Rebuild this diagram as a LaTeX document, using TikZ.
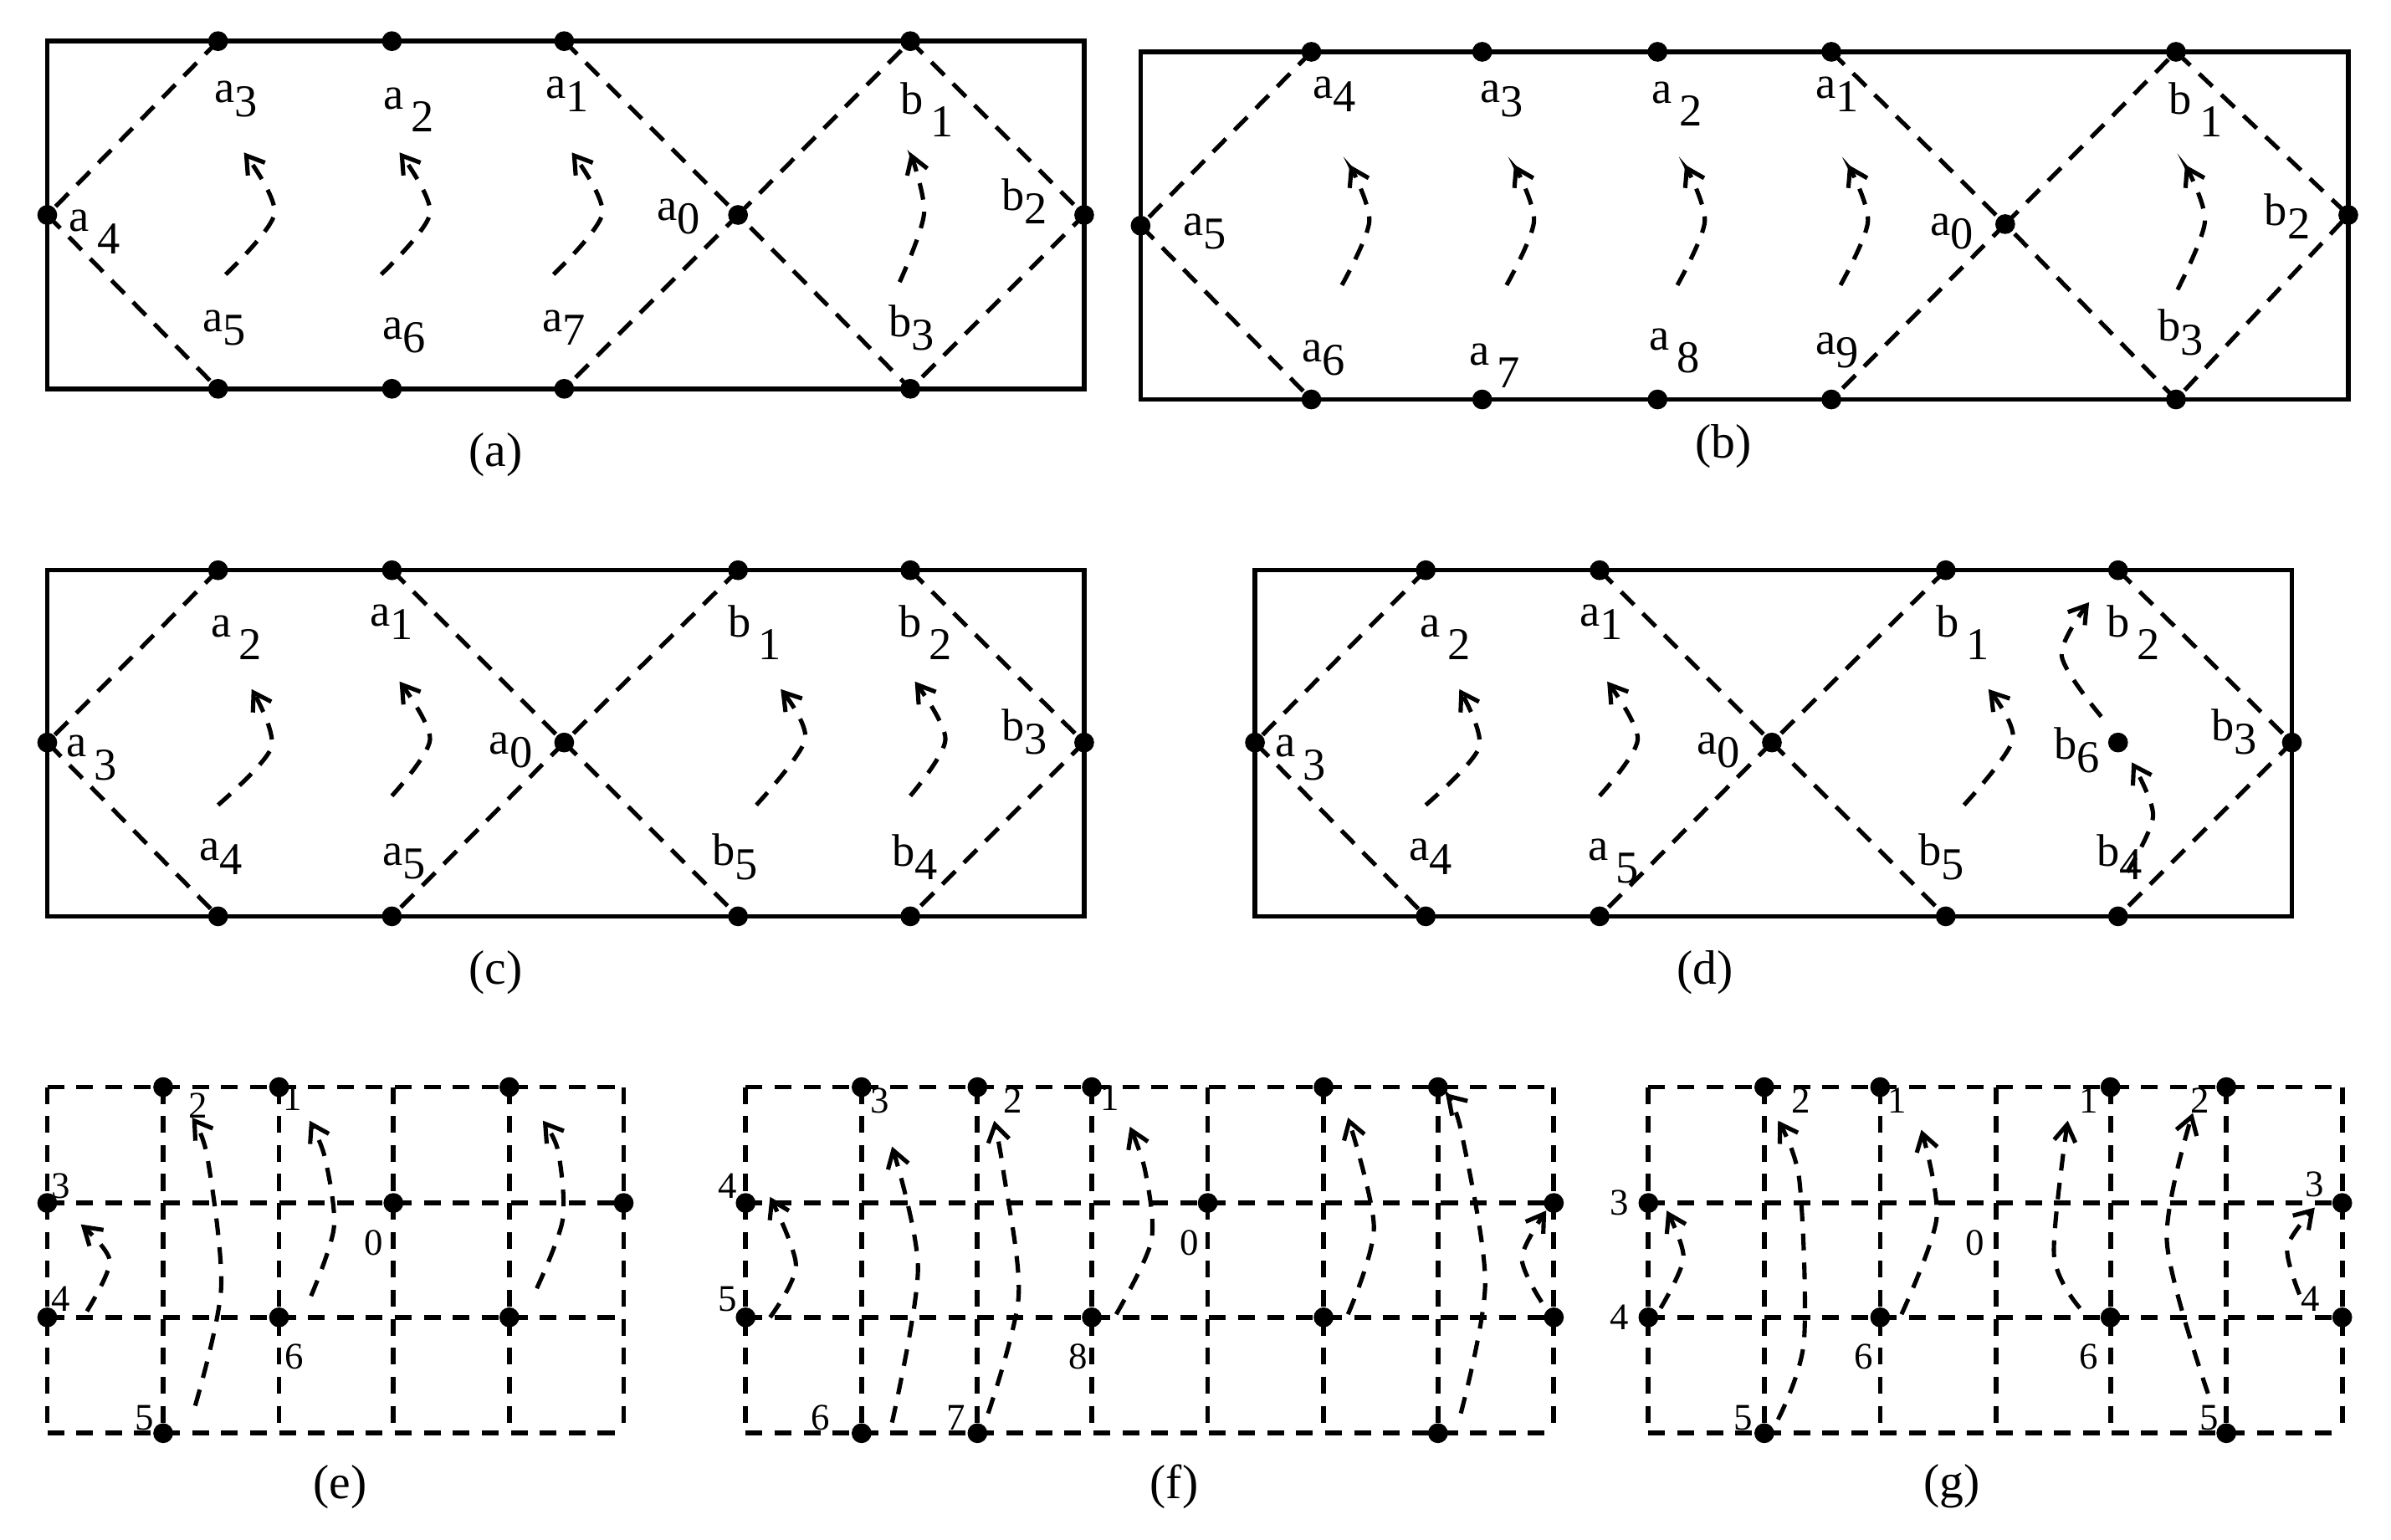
\documentclass[tikz,border=0pt]{standalone}
\usepackage{fontspec}
\setmainfont{Liberation Serif}
\usetikzlibrary{arrows.meta}
\tikzset{
 box/.style={line width=0.85pt},
 dl/.style={line width=0.8pt,dash pattern=on 1.2mm off 0.8mm},
 gridln/.style={line width=0.9pt,dash pattern=on 1.1mm off 0.8mm},
 arr/.style={line width=0.8pt,dash pattern=on 1.1mm off 0.8mm,-{Straight Barb[length=1.1mm,width=1.4mm]}},
 dot/.style={circle,fill=black,inner sep=0pt,minimum width=1.1mm,minimum height=1.3mm},
 lb/.style={font=\fontsize{8.5}{9}\selectfont,inner sep=0pt},
 nb/.style={font=\fontsize{7}{8}\selectfont,inner sep=0pt},
 captxt/.style={font=\fontsize{9}{10}\selectfont,inner sep=0pt}
}
\newcommand{\lsb}[2]{#1\raisebox{-0.3em}{#2}}
\newcommand{\lsbs}[2]{#1\,\raisebox{-0.5em}{#2}}
\begin{document}
\begin{tikzpicture}[x=0.1mm,y=-0.1mm]
\useasboundingbox (0,0) rectangle (1568,1010);
% ---------- (a)
\draw[box] (31,27) rectangle (711,255);
\foreach \i/\x in {1/143,2/257,3/370,4/597}{
 \node[dot] (at\i) at (\x,27) {}; \node[dot] (ab\i) at (\x,255) {};}
\node[dot] (al) at (31,141) {}; \node[dot] (ar) at (711,141) {}; \node[dot] (a0) at (484,141) {};
\draw[dl] (at1.center)--(al.center)--(ab1.center);
\draw[dl] (at3.center)--(a0.center)--(ab3.center);
\draw[dl] (a0.center)--(at4.center)--(ar.center)--(ab4.center)--(a0.center);
\node[lb] at (155,65) {\lsb{a}{3}}; \node[lb] at (268,72) {\lsbs{a}{2}};
\node[lb] at (372,62) {\lsb{a}{1}}; \node[lb] at (608,72) {\lsbs{b}{1}};
\node[lb] at (62,152) {\lsbs{a}{4}}; \node[lb] at (445,142) {\lsb{a}{0}};
\node[lb] at (672,132) {\lsb{b}{2}};
\node[lb] at (147,215) {\lsb{a}{5}}; \node[lb] at (265,220) {\lsb{a}{6}};
\node[lb] at (370,215) {\lsb{a}{7}}; \node[lb] at (598,215) {\lsb{b}{3}};
\foreach \x in {160,262,375}{\draw[arr] plot[smooth] coordinates {(\x-12,180) (\x+20,140) (\x,100)};}
\draw[arr] plot[smooth] coordinates {(590,185) (606,140) (597,100)};
\node[captxt] at (325,298) {(a)};
% ---------- (b)
\draw[box] (748,34) rectangle (1540,262);
\foreach \i/\x in {1/860,2/972,3/1087,4/1201,5/1427}{
 \node[dot] (bt\i) at (\x,34) {}; \node[dot] (bb\i) at (\x,262) {};}
\node[dot] (bl) at (748,148) {}; \node[dot] (br) at (1540,141) {}; \node[dot] (b0) at (1315,147) {};
\draw[dl] (bt1.center)--(bl.center)--(bb1.center);
\draw[dl] (bt4.center)--(b0.center)--(bb4.center);
\draw[dl] (b0.center)--(bt5.center)--(br.center)--(bb5.center)--(b0.center);
\node[lb] at (875,62) {\lsb{a}{4}}; \node[lb] at (985,65) {\lsb{a}{3}};
\node[lb] at (1100,68) {\lsbs{a}{2}}; \node[lb] at (1205,62) {\lsb{a}{1}};
\node[lb] at (1440,72) {\lsbs{b}{1}};
\node[lb] at (790,152) {\lsb{a}{5}}; \node[lb] at (1280,152) {\lsb{a}{0}};
\node[lb] at (1500,142) {\lsb{b}{2}};
\node[lb] at (868,235) {\lsb{a}{6}}; \node[lb] at (980,240) {\lsbs{a}{7}};
\node[lb] at (1098,230) {\lsbs{a}{8}}; \node[lb] at (1205,230) {\lsb{a}{9}};
\node[lb] at (1430,218) {\lsb{b}{3}};
\foreach \x in {885,993,1105,1212}{\draw[arr] plot[smooth] coordinates {(\x-5,187) (\x+13,145) (\x,108)};}
\draw[arr] plot[smooth] coordinates {(1428,190) (1446,145) (1433,108)};
\node[captxt] at (1130,293) {(b)};
% ---------- (c)
\draw[box] (31,374) rectangle (711,601);
\foreach \i/\x in {1/143,2/257,3/484,4/597}{
 \node[dot] (ct\i) at (\x,374) {}; \node[dot] (cb\i) at (\x,601) {};}
\node[dot] (cl) at (31,487) {}; \node[dot] (cr) at (711,487) {}; \node[dot] (c0) at (370,487) {};
\draw[dl] (ct1.center)--(cl.center)--(cb1.center);
\draw[dl] (ct2.center)--(c0.center)--(cb2.center);
\draw[dl] (ct3.center)--(c0.center)--(cb3.center);
\draw[dl] (ct4.center)--(cr.center)--(cb4.center);
\node[lb] at (155,418) {\lsbs{a}{2}}; \node[lb] at (257,408) {\lsb{a}{1}};
\node[lb] at (495,415) {\lsbs{b}{1}}; \node[lb] at (607,415) {\lsbs{b}{2}};
\node[lb] at (60,497) {\lsbs{a}{3}}; \node[lb] at (335,492) {\lsb{a}{0}};
\node[lb] at (672,480) {\lsb{b}{3}};
\node[lb] at (145,562) {\lsb{a}{4}}; \node[lb] at (265,565) {\lsb{a}{5}};
\node[lb] at (482,562) {\lsb{b}{5}}; \node[lb] at (600,562) {\lsb{b}{4}};
\draw[arr] plot[smooth] coordinates {(143,528) (178,490) (165,452)};
\draw[arr] plot[smooth] coordinates {(257,522) (282,485) (262,447)};
\draw[arr] plot[smooth] coordinates {(496,528) (528,485) (512,452)};
\draw[arr] plot[smooth] coordinates {(597,522) (620,485) (600,447)};
\node[captxt] at (325,638) {(c)};
% ---------- (d)
\draw[box] (823,374) rectangle (1503,601);
\foreach \i/\x in {1/935,2/1049,3/1276,4/1389}{
 \node[dot] (dt\i) at (\x,374) {}; \node[dot] (db\i) at (\x,601) {};}
\node[dot] (dL) at (823,487) {}; \node[dot] (dR) at (1503,487) {}; \node[dot] (d0) at (1162,487) {};
\node[dot] (d6) at (1389,487) {};
\draw[dl] (dt1.center)--(dL.center)--(db1.center);
\draw[dl] (dt2.center)--(d0.center)--(db2.center);
\draw[dl] (dt3.center)--(d0.center)--(db3.center);
\draw[dl] (dt4.center)--(dR.center)--(db4.center);
\node[lb] at (948,418) {\lsbs{a}{2}}; \node[lb] at (1050,408) {\lsb{a}{1}};
\node[lb] at (1287,415) {\lsbs{b}{1}}; \node[lb] at (1399,415) {\lsbs{b}{2}};
\node[lb] at (853,497) {\lsbs{a}{3}}; \node[lb] at (1127,492) {\lsb{a}{0}};
\node[lb] at (1362,492) {\lsb{b}{6}}; \node[lb] at (1465,480) {\lsb{b}{3}};
\node[lb] at (938,562) {\lsb{a}{4}}; \node[lb] at (1058,565) {\lsbs{a}{5}};
\node[lb] at (1273,562) {\lsb{b}{5}}; \node[lb] at (1390,562) {\lsb{b}{4}};
\draw[arr] plot[smooth] coordinates {(935,528) (970,490) (957,452)};
\draw[arr] plot[smooth] coordinates {(1049,522) (1074,485) (1054,447)};
\draw[arr] plot[smooth] coordinates {(1288,528) (1320,485) (1304,452)};
\draw[arr] plot[smooth] coordinates {(1378,470) (1352,430) (1370,395)};
\draw[arr] plot[smooth] coordinates {(1395,572) (1412,535) (1398,500)};
\node[captxt] at (1118,638) {(d)};
% ---------- (e)
\foreach \x in {31,107,183,258,334,409}{\draw[gridln] (\x,713)--(\x,940);}
\foreach \y in {713,789,864,940}{\draw[gridln] (31,\y)--(409,\y);}
\foreach \n/\x/\y in {e2/107/713,e1/183/713,eA/334/713,e3/31/789,e0/258/789,eB/409/789,e4/31/864,e6/183/864,eC/334/864,e5/107/940}{\node[dot] (\n) at (\x,\y) {};}
\foreach \t/\x/\y in {2/130/725,1/192/720,3/40/778,0/245/815,4/40/852,6/193/890,5/95/930}{\node[nb] at (\x,\y) {\t};}
\draw[arr] plot[smooth] coordinates {(128,922) (145,845) (136,759) (126,733)};
\draw[arr] plot[smooth] coordinates {(204,850) (219,805) (213,759) (203,735)};
\draw[arr] plot[smooth] coordinates {(57,860) (72,827) (53,803)};
\draw[arr] plot[smooth] coordinates {(352,845) (369,800) (366,755) (356,735)};
\node[captxt] at (223,975) {(e)};
% ---------- (f)
\foreach \x in {489,565,641,716,792,868,943,1019}{\draw[gridln] (\x,713)--(\x,940);}
\foreach \y in {713,789,864,940}{\draw[gridln] (489,\y)--(1019,\y);}
\foreach \n/\x/\y in {f3/565/713,f2/641/713,f1/716/713,fA/868/713,fB/943/713,f4/489/789,f0/792/789,fC/1019/789,f5/489/864,f8/716/864,fD/868/864,fE/1019/864,f6/565/940,f7/641/940,fF/943/940}{\node[dot] (\n) at (\x,\y) {};}
\foreach \t/\x/\y in {3/577/722,2/664/722,1/728/720,4/477/778,0/780/815,5/477/852,8/707/890,6/538/930,7/627/930}{\node[nb] at (\x,\y) {\t};}
\draw[arr] plot[smooth] coordinates {(505,864) (522,830) (505,785)};
\draw[arr] plot[smooth] coordinates {(585,933) (602,832) (585,752)};
\draw[arr] plot[smooth] coordinates {(648,927) (668,850) (658,768) (652,735)};
\draw[arr] plot[smooth] coordinates {(732,862) (755,814) (751,768) (741,739)};
\draw[arr] plot[smooth] coordinates {(884,862) (901,805) (884,733)};
\draw[arr] plot[smooth] coordinates {(958,927) (974,841) (958,741) (948,717)};
\draw[arr] plot[smooth] coordinates {(1011,854) (998,825) (1014,794)};
\node[captxt] at (770,975) {(f)};
% ---------- (g)
\foreach \x in {1081,1157,1233,1309,1384,1460,1536}{\draw[gridln] (\x,713)--(\x,940);}
\foreach \y in {713,789,864,940}{\draw[gridln] (1081,\y)--(1536,\y);}
\foreach \n/\x/\y in {g2/1157/713,g1/1233/713,gA/1384/713,gB/1460/713,g3/1081/789,gC/1536/789,g4/1081/864,gD/1536/864,g6/1233/864,gE/1384/864,g5/1157/940,gF/1460/940}{\node[dot] (\n) at (\x,\y) {};}
\foreach \t/\x/\y in {2/1181/722,1/1244/722,1/1370/722,2/1443/722,3/1062/789,3/1518/777,0/1295/815,4/1062/864,4/1515/852,6/1222/890,6/1370/890,5/1143/930,5/1449/930}{\node[nb] at (\x,\y) {\t};}
\draw[arr] plot[smooth] coordinates {(1166,931) (1183,880) (1180,774) (1166,735)};
\draw[arr] plot[smooth] coordinates {(1247,862) (1270,799) (1260,741)};
\draw[arr] plot[smooth] coordinates {(1089,858) (1104,825) (1093,794)};
\draw[arr] plot[smooth] coordinates {(1364,858) (1347,823) (1356,735)};
\draw[arr] plot[smooth] coordinates {(1448,914) (1421,814) (1438,730)};
\draw[arr] plot[smooth] coordinates {(1508,849) (1500,818) (1518,792)};
\node[captxt] at (1280,975) {(g)};
\end{tikzpicture}
\end{document}
